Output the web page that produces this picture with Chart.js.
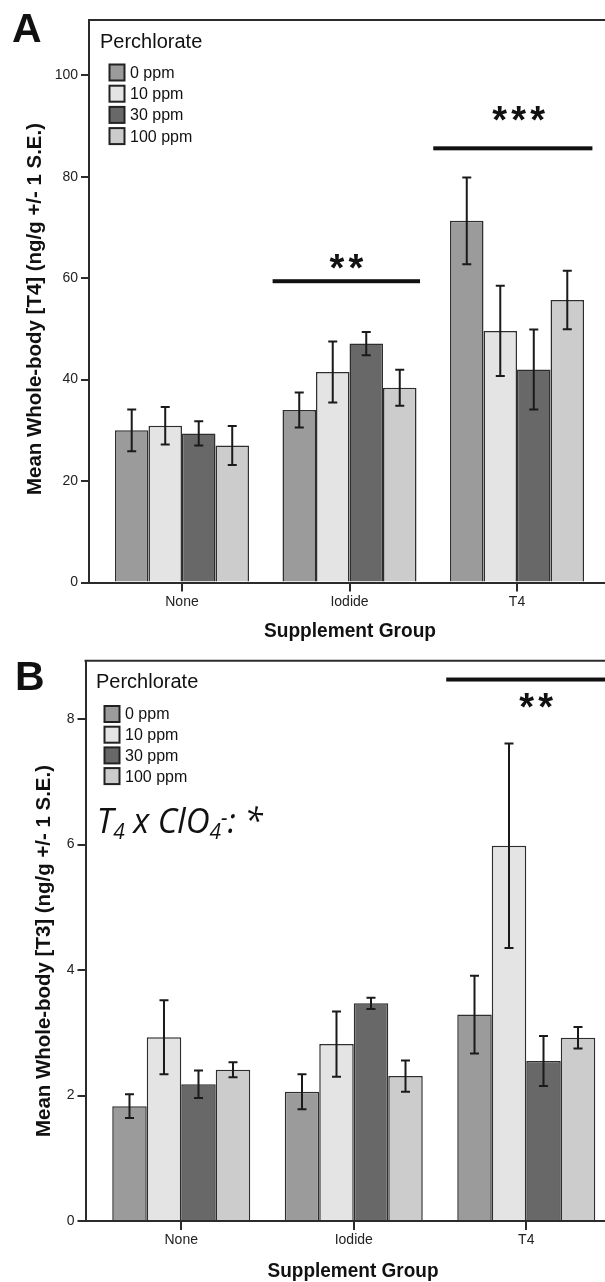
<!DOCTYPE html>
<html>
<head>
<meta charset="utf-8">
<script src="https://cdn.jsdelivr.net/npm/chart.js@4.4.0/dist/chart.umd.min.js"></script>
<style>
  html, body { margin: 0; padding: 0; width: 605px; height: 1282px; overflow: hidden; background: #fff; }
  canvas { position: absolute; left: 0; }
  .letter { position: absolute; font: bold 41px "Liberation Sans", Arial, sans-serif; color: #111; line-height: 1; }
</style>
</head>
<body>
<canvas id="chartA" width="640" height="645" style="top:0"></canvas>
<canvas id="chartB" width="640" height="637" style="top:645px"></canvas>
<div class="letter" style="left:12px;top:8px">A</div>
<div class="letter" style="left:15px;top:656px">B</div>
<script>
const categories = ["None", "Iodide", "T4"];
const doseLabels = ["0 ppm", "10 ppm", "30 ppm", "100 ppm"];

// panel A : whole-body T4 (ng/g)
const t4Mean0 = [30.0, 34.0, 71.3];
const t4Mean10 = [30.9, 41.5, 49.6];
const t4Mean30 = [29.4, 47.1, 42.0];
const t4Mean100 = [27.0, 38.4, 55.7];
const t4Err0 = [4.1, 3.45, 8.55];
const t4Err10 = [3.7, 6.0, 8.9];
const t4Err30 = [2.4, 2.3, 7.9];
const t4Err100 = [3.85, 3.55, 5.75];
const t4Ticks = [0, 20, 40, 60, 80, 100];

// panel B : whole-body T3 (ng/g)
const t3Mean0 = [1.83, 2.06, 3.29];
const t3Mean10 = [2.93, 2.82, 5.98];
const t3Mean30 = [2.18, 3.47, 2.55];
const t3Mean100 = [2.41, 2.31, 2.92];
const t3Err0 = [0.19, 0.28, 0.62];
const t3Err10 = [0.59, 0.52, 1.63];
const t3Err30 = [0.22, 0.09, 0.40];
const t3Err100 = [0.12, 0.25, 0.17];
const t3Ticks = [0, 2, 4, 6, 8];

const doseFills = ["#9b9b9b", "#e4e4e4", "#686868", "#cccccc"];
const ink = "#2b2b2b";
const SANS = '"Liberation Sans", Arial, sans-serif';

function buildDatasets(means, errs) {
  return means.map((m, i) => ({
    label: doseLabels[i],
    data: m.map((v, j) => ({ x: j, y: v })),
    errors: errs[i],
    backgroundColor: doseFills[i],
    borderColor: "#2e2e2e",
    borderWidth: 1.5,
    categoryPercentage: 0.8,
    barPercentage: 1.0
  }));
}

// top edge of the plot frame
const framePlugin = {
  id: "frame",
  beforeDatasetsDraw(chart) {
    const { ctx, chartArea: a } = chart;
    ctx.save();
    ctx.strokeStyle = ink;
    ctx.lineWidth = 2;
    ctx.beginPath();
    ctx.moveTo(a.left - 1, a.top);
    ctx.lineTo(a.right + 1, a.top);
    ctx.stroke();
    ctx.restore();
  }
};

const errorBarPlugin = {
  id: "errorBars",
  afterDatasetsDraw(chart) {
    const { ctx } = chart;
    const y = chart.scales.y;
    ctx.save();
    ctx.strokeStyle = "#1a1a1a";
    ctx.lineWidth = 2;
    chart.data.datasets.forEach((ds, i) => {
      chart.getDatasetMeta(i).data.forEach((bar, j) => {
        const v = ds.data[j].y, e = ds.errors[j];
        const top = y.getPixelForValue(v + e), bot = y.getPixelForValue(v - e);
        ctx.beginPath();
        ctx.moveTo(bar.x, top); ctx.lineTo(bar.x, bot);
        ctx.moveTo(bar.x - 4.5, top); ctx.lineTo(bar.x + 4.5, top);
        ctx.moveTo(bar.x - 4.5, bot); ctx.lineTo(bar.x + 4.5, bot);
        ctx.stroke();
      });
    });
    ctx.restore();
  }
};

const sigPlugin = {
  id: "sigMarks",
  afterDatasetsDraw(chart, args, opts) {
    if (!opts.marks) return;
    const { ctx, scales: { x, y } } = chart;
    ctx.save();
    opts.marks.forEach(m => {
      const yy = y.getPixelForValue(m.y);
      const x0 = x.getPixelForValue(m.from), x1 = x.getPixelForValue(m.to);
      ctx.fillStyle = "#111";
      ctx.fillRect(x0, yy - 2, x1 - x0, 4);
      ctx.font = "bold 38px " + SANS;
      ctx.textAlign = "center";
      const mt = ctx.measureText("*");
      const sy = y.getPixelForValue(m.starY);
      const base = sy + (mt.actualBoundingBoxAscent - mt.actualBoundingBoxDescent) / 2;
      const cx = x.getPixelForValue(m.starX);
      for (let k = 0; k < m.stars; k++) {
        ctx.fillText("*", cx + (k - (m.stars - 1) / 2) * 19, base);
      }
    });
    ctx.restore();
  }
};

const legendPlugin = {
  id: "panelLegend",
  afterDraw(chart, args, opts) {
    if (!opts.title) return;
    const { ctx } = chart;
    ctx.save();
    ctx.fillStyle = "#111";
    ctx.font = "20px " + SANS;
    ctx.textBaseline = "alphabetic";
    ctx.fillText(opts.title, opts.titleX, opts.titleY);
    ctx.font = "16px " + SANS;
    ctx.textBaseline = "middle";
    chart.data.datasets.forEach((ds, i) => {
      const cy = opts.rowY + i * opts.rowGap;
      ctx.fillStyle = ds.backgroundColor;
      ctx.fillRect(opts.boxX, cy - 8, 15, 16);
      ctx.strokeStyle = "#222";
      ctx.lineWidth = 2;
      ctx.strokeRect(opts.boxX, cy - 8, 15, 16);
      ctx.fillStyle = "#111";
      ctx.fillText(ds.label, opts.textX, cy + 1);
    });
    ctx.restore();
  }
};

// axis titles, stretched to the lengths seen in the figure
const axisTitlePlugin = {
  id: "axisTitles",
  afterDraw(chart, args, o) {
    if (!o.y) return;
    const { ctx } = chart;
    ctx.save();
    ctx.fillStyle = "#111";
    ctx.textAlign = "center";
    ctx.textBaseline = "middle";
    ctx.font = "bold 20px " + SANS;
    let w = ctx.measureText(o.y.text).width;
    ctx.save();
    ctx.translate(o.y.cx, o.y.cy);
    ctx.rotate(-Math.PI / 2);
    ctx.scale(o.y.len / w, 1);
    ctx.fillText(o.y.text, 0, 0);
    ctx.restore();
    ctx.font = "bold 21px " + SANS;
    w = ctx.measureText(o.x.text).width;
    ctx.translate(o.x.cx, o.x.cy);
    ctx.scale(o.x.len / w, 1);
    ctx.fillText(o.x.text, 0, 0);
    ctx.restore();
  }
};

// "T4 x ClO4- : *" interaction note
const notePlugin = {
  id: "note",
  afterDraw(chart, args, opts) {
    if (!opts.parts) return;
    const { ctx } = chart;
    const fonts = {
      m: "italic 35px \"Open Sans\", sans-serif",
      sub: "italic 22px \"Open Sans\", sans-serif",
      sup: "italic 22px \"Open Sans\", sans-serif"
    };
    const shift = { m: 0, sub: 6, sup: -8 };
    let total = 0;
    opts.parts.forEach(([t, s]) => { ctx.font = fonts[s]; total += ctx.measureText(t).width; });
    ctx.save();
    ctx.translate(opts.x, opts.y);
    ctx.scale(opts.width / total, 1);
    ctx.fillStyle = "#111";
    let cx = 0;
    opts.parts.forEach(([t, s]) => {
      ctx.font = fonts[s];
      ctx.fillText(t, cx, shift[s]);
      cx += ctx.measureText(t).width;
    });
    ctx.restore();
  }
};

function makeScales(yMax, yTicks, leftW, xH) {
  return {
    x: {
      type: "linear", min: -0.555, max: 2.555, offset: false,
      afterBuildTicks: s => { s.ticks = categories.map((c, i) => ({ value: i })); },
      afterFit: s => { s.height = xH; },
      grid: { display: true, drawOnChartArea: false, drawTicks: true, tickLength: 9, color: ink, lineWidth: 2, offset: false },
      border: { display: true, color: ink, width: 2 },
      ticks: { callback: v => categories[v], font: { family: SANS, size: 14 }, color: "#222", padding: 2, maxRotation: 0, autoSkip: false },
      title: { display: false }
    },
    y: {
      min: 0, max: yMax,
      afterBuildTicks: s => { s.ticks = yTicks.map(v => ({ value: v })); },
      afterFit: s => { s.width = leftW; },
      grid: { display: true, drawOnChartArea: false, drawTicks: true, tickLength: 8, color: ink, lineWidth: 2 },
      border: { display: true, color: ink, width: 2 },
      ticks: { font: { family: SANS, size: 14 }, color: "#222", padding: 3 },
      title: { display: false }
    }
  };
}

const plugins = [framePlugin, errorBarPlugin, sigPlugin, legendPlugin, axisTitlePlugin, notePlugin];

new Chart(document.getElementById("chartA"), {
  type: "bar",
  data: { datasets: buildDatasets([t4Mean0, t4Mean10, t4Mean30, t4Mean100], [t4Err0, t4Err10, t4Err30, t4Err100]) },
  plugins,
  options: {
    responsive: false, animation: false, devicePixelRatio: 1,
    layout: { padding: { left: 0, top: 20, right: 30, bottom: 0 } },
    scales: makeScales(110.9, t4Ticks, 89, 62.5),
    plugins: {
      legend: { display: false }, tooltip: { enabled: false },
      sigMarks: { marks: [
        { from: 0.541, to: 1.421, y: 59.4, starX: 0.982, starY: 63.3, stars: 2 },
        { from: 1.50, to: 2.45, y: 85.6, starX: 2.01, starY: 92.5, stars: 3 }
      ] },
      panelLegend: { title: "Perchlorate", titleX: 100, titleY: 48, boxX: 109.5, rowY: 72.5, rowGap: 21.2, textX: 130 },
      axisTitles: {
        y: { text: "Mean Whole-body [T4] (ng/g +/- 1 S.E.)", cx: 35.5, cy: 309, len: 372 },
        x: { text: "Supplement Group", cx: 350, cy: 631, len: 172 }
      }
    }
  }
});

new Chart(document.getElementById("chartB"), {
  type: "bar",
  data: { datasets: buildDatasets([t3Mean0, t3Mean10, t3Mean30, t3Mean100], [t3Err0, t3Err10, t3Err30, t3Err100]) },
  plugins,
  options: {
    responsive: false, animation: false, devicePixelRatio: 1,
    layout: { padding: { left: 0, top: 15.7, right: 18, bottom: 0 } },
    scales: makeScales(8.93, t3Ticks, 85.5, 61),
    plugins: {
      legend: { display: false }, tooltip: { enabled: false },
      sigMarks: { marks: [
        { from: 1.536, to: 2.555, y: 8.63, starX: 2.057, starY: 8.30, stars: 2 }
      ] },
      panelLegend: { title: "Perchlorate", titleX: 96, titleY: 43, boxX: 104.5, rowY: 69, rowGap: 20.7, textX: 125 },
      axisTitles: {
        y: { text: "Mean Whole-body [T3] (ng/g +/- 1 S.E.)", cx: 44, cy: 306, len: 372 },
        x: { text: "Supplement Group", cx: 353, cy: 626, len: 171 }
      },
      note: { x: 96.7, y: 188.3, width: 166, parts: [["T", "m"], ["4", "sub"], [" x ClO", "m"], ["4", "sub"], ["-", "sup"], [": *", "m"]] }
    }
  }
});
</script>
</body>
</html>
